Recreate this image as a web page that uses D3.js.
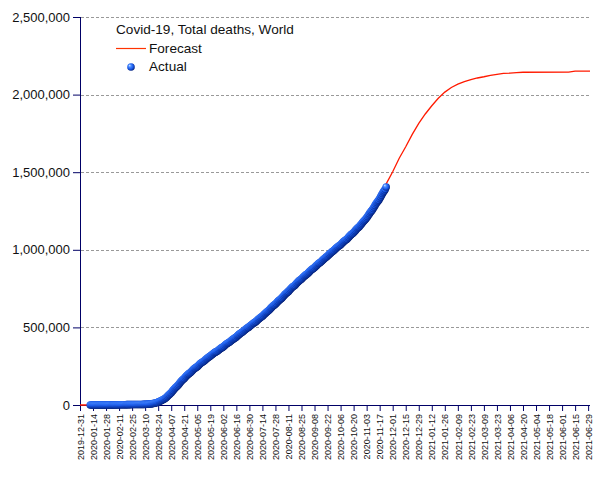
<!DOCTYPE html>
<html>
<head>
<meta charset="utf-8">
<script src="https://cdn.jsdelivr.net/npm/d3@7"></script>
<style>
  body { margin: 0; background: #fff; }
  text { font-family: "Liberation Sans", Arial, sans-serif; fill: #111; }
</style>
</head>
<body>
<div class="covid-chart"></div>
<script>
// actual cumulative deaths, one value per day starting 2020-01-11
const actualStart = "2020-01-11";
const actualDeaths = [
  // Jan 11-31
  1, 1, 1, 1, 2, 2, 2, 3, 3, 3, 6, 17, 18, 26, 42, 56, 82, 131, 133, 171, 213,
  // Feb
  259, 362, 426, 492, 565, 638, 724, 813, 910, 1018, 1115, 1261, 1383, 1526, 1669,
  1775, 1873, 2009, 2126, 2247, 2360, 2460, 2618, 2699, 2763, 2800, 2858, 2923, 2977,
  // Mar
  3050, 3117, 3202, 3285, 3387, 3494, 3599, 3827, 4025, 4296, 4628, 4981, 5428, 5833,
  6520, 7162, 7979, 8951, 10030, 11428, 13069, 14766, 16558, 18617, 21800, 24100,
  27300, 30800, 34000, 37300, 40700,
  // Apr
  45500, 50300, 56400, 62300, 67900, 73300, 79300, 86700, 94000, 101000, 108000,
  114000, 119000, 125000, 132000, 140000, 148000, 155000, 161000, 166000, 171000,
  178000, 185000, 191000, 197000, 202000, 206000, 211000, 217000, 224000,
  // May
  230000, 235000, 239000, 243000, 247000, 253000, 259000, 265000, 270000, 274000,
  278000, 282000, 287000, 293000, 298000, 303000, 307000, 311000, 315000, 320000,
  325000, 330000, 335000, 339000, 342000, 345000, 349000, 354000, 359000, 364000, 368000,
  // Jun
  371000, 375000, 380000, 386000, 391000, 396000, 399000, 403000, 407000, 412000,
  417000, 422000, 426000, 430000, 434000, 438000, 445000, 450000, 455000, 460000,
  464000, 468000, 472000, 478000, 483000, 488000, 493000, 497000, 500000, 505000,
  // Jul
  510000, 515000, 520000, 525000, 529000, 533000, 537000, 543000, 549000, 554000,
  559000, 564000, 568000, 572000, 578000, 584000, 590000, 596000, 601000, 605000,
  610000, 617000, 624000, 630000, 636000, 641000, 645000, 650000, 656000, 663000, 669000,
  // Aug
  675000, 680000, 685000, 690000, 697000, 704000, 711000, 717000, 722000, 727000,
  732000, 739000, 746000, 752000, 758000, 763000, 767000, 772000, 779000, 786000,
  792000, 798000, 803000, 807000, 812000, 818000, 824000, 830000, 835000, 840000, 844000,
  // Sep
  849000, 856000, 862000, 868000, 873000, 877000, 881000, 886000, 892000, 898000,
  904000, 910000, 914000, 918000, 923000, 929000, 935000, 941000, 946000, 951000,
  955000, 960000, 966000, 972000, 978000, 983000, 988000, 992000, 997000, 1003000,
  // Oct
  1009000, 1015000, 1020000, 1024000, 1028000, 1033000, 1039000, 1045000, 1051000,
  1057000, 1061000, 1065000, 1070000, 1077000, 1083000, 1090000, 1096000, 1101000,
  1105000, 1111000, 1118000, 1125000, 1132000, 1139000, 1144000, 1149000, 1156000,
  1163000, 1171000, 1179000, 1186000,
  // Nov 1-24
  1192000, 1198000, 1206000, 1215000, 1224000, 1233000, 1242000, 1249000, 1256000,
  1266000, 1276000, 1286000, 1296000, 1305000, 1313000, 1320000, 1330000, 1341000,
  1352000, 1363000, 1373000, 1381000, 1390000, 1405000
];

// forecast curve, [date, deaths]
const forecast = [
  ["2019-12-31", 0], ["2020-01-14", 0], ["2020-01-21", 6], ["2020-01-28", 131],
  ["2020-02-04", 492], ["2020-02-11", 1115], ["2020-02-18", 2009], ["2020-02-25", 2763],
  ["2020-03-03", 3202], ["2020-03-10", 4296], ["2020-03-17", 7979], ["2020-03-24", 18617],
  ["2020-03-31", 40700], ["2020-04-07", 79300], ["2020-04-14", 125000], ["2020-04-21", 171000],
  ["2020-04-28", 211000], ["2020-05-05", 247000], ["2020-05-12", 282000], ["2020-05-19", 315000],
  ["2020-05-26", 345000], ["2020-06-02", 375000], ["2020-06-09", 407000], ["2020-06-16", 438000],
  ["2020-06-23", 472000], ["2020-06-30", 505000], ["2020-07-07", 537000], ["2020-07-14", 572000],
  ["2020-07-21", 610000], ["2020-07-28", 650000], ["2020-08-04", 690000], ["2020-08-11", 732000],
  ["2020-08-18", 772000], ["2020-08-25", 812000], ["2020-09-01", 849000], ["2020-09-08", 886000],
  ["2020-09-15", 923000], ["2020-09-22", 960000], ["2020-09-29", 997000], ["2020-10-06", 1033000],
  ["2020-10-13", 1070000], ["2020-10-20", 1111000], ["2020-10-27", 1156000], ["2020-11-03", 1206000],
  ["2020-11-10", 1266000], ["2020-11-17", 1335000], ["2020-11-24", 1425000], ["2020-12-01", 1503000],
  ["2020-12-08", 1590000], ["2020-12-15", 1664000], ["2020-12-22", 1744000], ["2020-12-29", 1815000],
  ["2021-01-05", 1875000], ["2021-01-12", 1928000], ["2021-01-19", 1976000], ["2021-01-26", 2016000],
  ["2021-02-02", 2046000], ["2021-02-09", 2067000], ["2021-02-16", 2083000], ["2021-02-23", 2096000],
  ["2021-03-02", 2107000], ["2021-03-09", 2115000], ["2021-03-16", 2124000], ["2021-03-23", 2131000],
  ["2021-03-30", 2137000], ["2021-04-06", 2138000], ["2021-04-13", 2141000], ["2021-04-20", 2144000],
  ["2021-06-08", 2145000], ["2021-06-15", 2151000], ["2021-07-01", 2151000]
];

const xTickLabels = [
  "2019-12-31", "2020-01-14", "2020-01-28", "2020-02-11", "2020-02-25", "2020-03-10",
  "2020-03-24", "2020-04-07", "2020-04-21", "2020-05-05", "2020-05-19", "2020-06-02",
  "2020-06-16", "2020-06-30", "2020-07-14", "2020-07-28", "2020-08-11", "2020-08-25",
  "2020-09-08", "2020-09-22", "2020-10-06", "2020-10-20", "2020-11-03", "2020-11-17",
  "2020-12-01", "2020-12-15", "2020-12-29", "2021-01-12", "2021-01-26", "2021-02-09",
  "2021-02-23", "2021-03-09", "2021-03-23", "2021-04-06", "2021-04-20", "2021-05-04",
  "2021-05-18", "2021-06-01", "2021-06-15", "2021-06-29"
];
const yTicks = [0, 500000, 1000000, 1500000, 2000000, 2500000];

const title = "Covid-19, Total deaths, World";

const width = 605;
const height = 480;
const plot = { left: 80, right: 590, top: 17, bottom: 405 };
const axisColor = "#000066";

const parse = d3.utcParse("%Y-%m-%d");

const svg = d3.select(".covid-chart")
  .append("svg")
  .attr("width", width)
  .attr("height", height);

const x = d3.scaleUtc()
  .domain([parse("2019-12-31"), parse("2021-07-01")])
  .range([plot.left, plot.right]);

const y = d3.scaleLinear()
  .domain([0, 2500000])
  .range([plot.bottom, plot.top]);

// sphere look for the markers
const grad = svg.append("defs").append("radialGradient")
  .attr("id", "ball")
  .attr("cx", "45%").attr("cy", "45%").attr("r", "60%")
  .attr("fx", "30%").attr("fy", "28%");
grad.append("stop").attr("offset", "0%").attr("stop-color", "#d0e4ff");
grad.append("stop").attr("offset", "30%").attr("stop-color", "#4a8cff");
grad.append("stop").attr("offset", "65%").attr("stop-color", "#1858ea");
grad.append("stop").attr("offset", "100%").attr("stop-color", "#00186a");

// grid
svg.append("g")
  .selectAll("line")
  .data(yTicks.filter(d => d > 0))
  .enter()
  .append("line")
  .attr("x1", plot.left + 1).attr("x2", plot.right)
  .attr("y1", d => Math.round(y(d)) + 0.5).attr("y2", d => Math.round(y(d)) + 0.5)
  .attr("stroke", "#999")
  .attr("stroke-dasharray", "3,2");

// y axis
const yAxis = svg.append("g")
  .attr("transform", `translate(${plot.left},0)`)
  .call(d3.axisLeft(y).tickValues(yTicks).tickFormat(d3.format(",")).tickSize(7).tickPadding(3));
yAxis.select(".domain").remove();
yAxis.selectAll("line").attr("stroke", axisColor);
yAxis.selectAll("text")
  .style("font-size", "13px")
  .style("font-family", "'Liberation Sans', Arial, sans-serif")
  .attr("fill", "#111");

// x axis
const xAxis = svg.append("g")
  .attr("transform", `translate(0,${plot.bottom})`)
  .call(d3.axisBottom(x)
    .tickValues(xTickLabels.map(parse))
    .tickFormat(d3.utcFormat("%Y-%m-%d"))
    .tickSize(6));
xAxis.select(".domain").remove();
xAxis.selectAll("line").attr("stroke", axisColor);
xAxis.selectAll("text")
  .attr("transform", "rotate(-90)")
  .attr("x", -9)
  .attr("y", 0)
  .attr("dy", "0.35em")
  .attr("text-anchor", "end")
  .style("font-size", "9px")
  .style("font-family", "'Liberation Sans', Arial, sans-serif")
  .attr("fill", "#111");

svg.append("line")
  .attr("x1", plot.left + 0.5).attr("x2", plot.left + 0.5)
  .attr("y1", plot.top).attr("y2", plot.bottom + 6)
  .attr("stroke", axisColor);
svg.append("line")
  .attr("x1", plot.left).attr("x2", plot.right)
  .attr("y1", plot.bottom + 0.5).attr("y2", plot.bottom + 0.5)
  .attr("stroke", axisColor);

// forecast line
const line = d3.line()
  .x(d => x(parse(d[0])))
  .y(d => y(d[1]));

svg.append("path")
  .datum(forecast)
  .attr("d", line)
  .attr("fill", "none")
  .attr("stroke", "#ff1a00")
  .attr("stroke-width", 1.3);

// actual markers
const start = parse(actualStart);
svg.append("g")
  .selectAll("circle")
  .data(actualDeaths)
  .enter()
  .append("circle")
  .attr("cx", (d, i) => x(d3.utcDay.offset(start, i)))
  .attr("cy", d => y(d))
  .attr("r", 3.8)
  .attr("fill", "url(#ball)");

// title and legend
svg.append("text")
  .attr("x", 116).attr("y", 34)
  .style("font-size", "13.6px")
  .text(title);

svg.append("line")
  .attr("x1", 116).attr("x2", 146)
  .attr("y1", 48.5).attr("y2", 48.5)
  .attr("stroke", "#ff3300")
  .attr("stroke-width", 1.2);
svg.append("text")
  .attr("x", 149).attr("y", 53)
  .style("font-size", "13.6px")
  .text("Forecast");

svg.append("circle")
  .attr("cx", 131).attr("cy", 67)
  .attr("r", 3.8)
  .attr("fill", "url(#ball)");
svg.append("text")
  .attr("x", 149).attr("y", 71)
  .style("font-size", "13.6px")
  .text("Actual");
</script>
</body>
</html>
